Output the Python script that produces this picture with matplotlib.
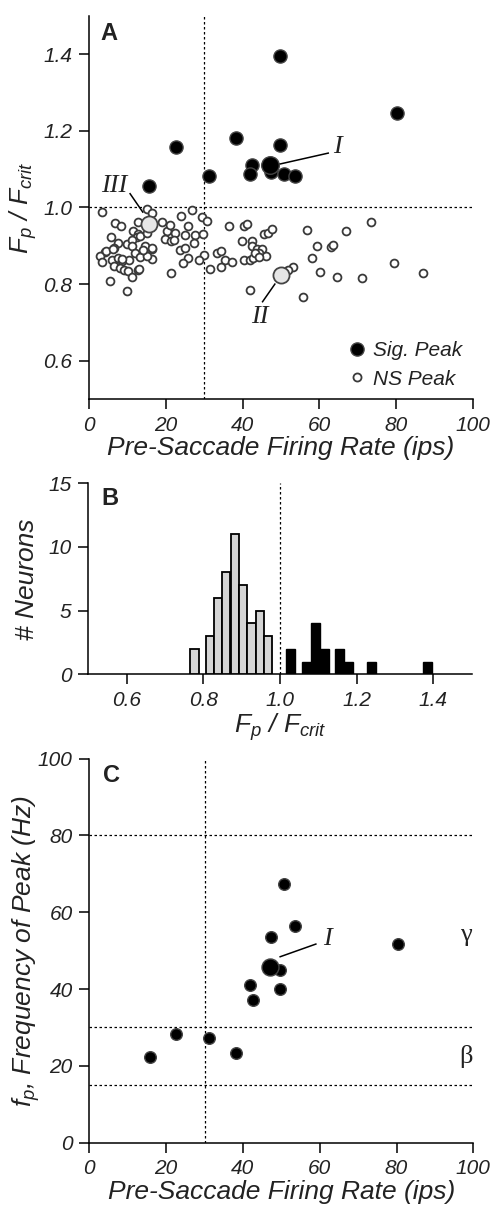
import matplotlib
matplotlib.use("Agg")
import matplotlib.pyplot as plt
from matplotlib.lines import Line2D

plt.rcParams["font.family"] = "Liberation Sans"
plt.rcParams["mathtext.fontset"] = "custom"
plt.rcParams["mathtext.it"] = "Liberation Sans:italic"
plt.rcParams["mathtext.rm"] = "Liberation Sans:italic"
plt.rcParams["axes.linewidth"] = 1.1

# significant-peak neurons (panel A and C share the firing rate)
sig_rate = [49.7, 80.3, 38.2, 22.7, 49.7, 42.5, 41.9, 47.3, 50.8, 53.6, 31.2, 15.7]
sig_ratio = [1.395, 1.246, 1.182, 1.158, 1.162, 1.110, 1.088, 1.092, 1.087, 1.081, 1.083, 1.055]
sig_freq = [45.0, 51.7, 23.4, 28.3, 39.9, 37.1, 41.0, 53.6, 67.3, 56.5, 27.3, 22.4]

# example neuron I (significant), II and III (not significant)
ex1_rate, ex1_ratio, ex1_freq = 47.1, 1.110, 45.8
ex2_rate, ex2_ratio = 49.9, 0.823
ex3_rate, ex3_ratio = 15.7, 0.958

# non-significant neurons
ns_rate = [3.5, 6.8, 8.3, 15.1, 16.5, 12.8, 11.5, 12.8, 12.4, 13.3, 5.7, 7.6, 6.6, 9.8,
           11.1, 11.1, 15.0, 14.6, 16.3, 16.5, 4.2, 2.9, 3.3, 5.9, 7.6, 8.5, 10.5, 6.6,
           8.1, 9.2, 10.2, 11.1, 11.9, 13.3, 15.0, 12.8, 5.5, 10.0, 19.1, 20.2, 19.8,
           21.4, 21.4, 4.4, 6.3, 14.1, 8.5, 16.3, 13.0,
           26.7, 23.9, 29.3, 30.8, 21.1, 22.4, 22.1, 25.0, 25.9, 27.6, 29.8, 27.3, 36.5,
           40.4, 41.1, 23.7, 25.0, 25.9, 24.6, 30.0, 28.7, 31.4, 33.3, 34.4, 35.3, 37.2,
           34.3, 39.8, 42.4, 42.4, 43.8, 40.4, 42.0, 42.6, 41.9,
           45.0, 44.4, 46.1, 45.6, 46.7, 47.7, 53.2, 51.9, 55.7, 56.8, 59.3, 58.0, 60.2,
           62.9, 63.6, 64.5, 66.8, 71.0, 73.4, 79.3, 87.1, 43.2, 44.2]
ns_ratio = [0.987, 0.959, 0.953, 0.997, 0.985, 0.961, 0.938, 0.932, 0.923, 0.925, 0.923,
            0.908, 0.895, 0.906, 0.916, 0.899, 0.933, 0.899, 0.892, 0.866, 0.883, 0.874,
            0.857, 0.864, 0.868, 0.860, 0.862, 0.847, 0.842, 0.836, 0.834, 0.819, 0.881,
            0.871, 0.873, 0.838, 0.809, 0.783, 0.961, 0.938, 0.918, 0.912, 0.828,
            0.886, 0.892, 0.890, 0.866, 0.894, 0.840,
            0.994, 0.977, 0.975, 0.966, 0.955, 0.933, 0.914, 0.929, 0.951, 0.929, 0.930,
            0.907, 0.951, 0.953, 0.957, 0.890, 0.894, 0.868, 0.855, 0.877, 0.862, 0.840,
            0.882, 0.886, 0.864, 0.858, 0.845, 0.912, 0.913, 0.900, 0.891, 0.862, 0.862,
            0.868, 0.785,
            0.892, 0.881, 0.874, 0.931, 0.933, 0.945, 0.844, 0.838, 0.767, 0.940, 0.899,
            0.868, 0.832, 0.897, 0.903, 0.818, 0.939, 0.815, 0.962, 0.854, 0.830, 0.882,
            0.872]

# histogram of F_p / F_crit (bin left edges and counts)
ns_bin_left = [0.766, 0.806, 0.828, 0.849, 0.871, 0.893, 0.915, 0.937, 0.958]
ns_counts = [2, 3, 6, 8, 11, 7, 4, 5, 3]
sig_bin_left = [1.016, 1.057, 1.080, 1.104, 1.143, 1.166, 1.228, 1.374]
sig_counts = [2, 1, 4, 2, 2, 1, 1, 1]

W, H = 496, 1213
fig = plt.figure(figsize=(W / 100, H / 100), dpi=100)


def px_axes(x0, x1, y0, y1):
    return fig.add_axes([x0 / W, 1 - y1 / H, (x1 - x0) / W, (y1 - y0) / H])


def style(ax):
    for s in ["top", "right"]:
        ax.spines[s].set_visible(False)
    ax.tick_params(direction="out", length=7, width=1.1, labelsize=15, pad=5)
    for lab in ax.get_xticklabels() + ax.get_yticklabels():
        lab.set_fontstyle("italic")
        lab.set_color("#222222")


dash = dict(color="black", lw=0.9, ls=(0, (2, 2)))
lab_kw = dict(fontsize=19, fontstyle="italic", color="#222222")
serif = dict(family="Liberation Serif", fontsize=19, color="#222222")
ratio_label = r"$F_p$ / $F_{crit}$"

# ---------------- A ----------------
ax = px_axes(89, 473, 16, 399)
ax.set_xlim(0, 100)
ax.set_ylim(0.5, 1.5)
ax.axvline(30, **dash)
ax.axhline(1.0, **dash)
ax.scatter(ns_rate, ns_ratio, s=32, facecolor="white", edgecolor="#3a3a3a", lw=1.3, zorder=3)
ax.scatter([ex2_rate, ex3_rate], [ex2_ratio, ex3_ratio], s=135, facecolor="#e6e6e6",
           edgecolor="#444444", lw=1.3, zorder=4)
ax.scatter(sig_rate, sig_ratio, s=90, facecolor="black", edgecolor="#444444", lw=1.0, zorder=4)
ax.scatter([ex1_rate], [ex1_ratio], s=160, facecolor="black", edgecolor="#444444", lw=1.0, zorder=5)
ax.plot([49.7, 62.3], [1.1135, 1.142], color="black", lw=1.1)
ax.text(63.5, 1.159, "I", fontstyle="italic", va="center", ha="left", **serif)
ax.plot([10.7, 14.0], [1.036, 0.988], color="black", lw=1.1)
ax.text(10.0, 1.055, "III", fontstyle="italic", va="center", ha="right", **serif)
ax.plot([45.2, 48.4], [0.754, 0.800], color="black", lw=1.1)
ax.text(44.5, 0.713, "II", fontstyle="italic", va="center", ha="center", **serif)
ax.set_xticks([0, 20, 40, 60, 80, 100])
ax.set_yticks([0.6, 0.8, 1.0, 1.2, 1.4])
ax.set_yticklabels(["0.6", "0.8", "1.0", "1.2", "1.4"])
ax.set_xlabel("Pre-Saccade Firing Rate (ips)", labelpad=1, **lab_kw)
ax.set_ylabel(ratio_label, labelpad=3, **lab_kw)
ax.text(0.03, 0.985, "A", transform=ax.transAxes, fontsize=17, fontweight="bold",
        va="top", ha="left", color="#222222")
handles = [
    Line2D([], [], ls="none", marker="o", ms=9.5, mfc="black", mec="#444444"),
    Line2D([], [], ls="none", marker="o", ms=5.8, mfc="white", mec="#3a3a3a", mew=1.3),
]
leg = ax.legend(handles, ["Sig. Peak", "NS Peak"], loc="lower right", frameon=False,
                handletextpad=0.1, handlelength=1.4, labelspacing=0.45, borderaxespad=0.1,
                prop=dict(family="Liberation Sans", style="italic", size=15))
for t in leg.get_texts():
    t.set_color("#222222")
style(ax)

# ---------------- B ----------------
ax = px_axes(88.3, 471.7, 483.3, 674.3)
ax.set_xlim(0.5, 1.5)
ax.set_ylim(0, 15)
ax.axvline(1.0, **dash)
ax.bar(ns_bin_left, ns_counts, width=0.0215, align="edge", color="#d4d4d4",
       edgecolor="black", lw=1.3, zorder=3)
ax.bar(sig_bin_left, sig_counts, width=0.0235, align="edge", color="black",
       edgecolor="black", lw=1.0, zorder=3)
ax.set_xticks([0.6, 0.8, 1.0, 1.2, 1.4])
ax.set_xticklabels(["0.6", "0.8", "1.0", "1.2", "1.4"])
ax.set_yticks([0, 5, 10, 15])
ax.set_xlabel(ratio_label, labelpad=1, **lab_kw)
ax.set_ylabel("# Neurons", labelpad=7, **lab_kw)
ax.text(0.035, 0.98, "B", transform=ax.transAxes, fontsize=17, fontweight="bold",
        va="top", ha="left", color="#222222")
style(ax)

# ---------------- C ----------------
ax = px_axes(89.3, 473.3, 758.5, 1142.7)
ax.set_xlim(0, 100)
ax.set_ylim(0, 100)
ax.axvline(30, **dash)
for yv in [80, 30, 15]:
    ax.axhline(yv, **dash)
ax.scatter(sig_rate, sig_freq, s=70, facecolor="black", edgecolor="#444444", lw=1.0, zorder=4)
ax.scatter([ex1_rate], [ex1_freq], s=150, facecolor="black", edgecolor="#444444", lw=1.0, zorder=5)
ax.plot([49.7, 59.0], [48.4, 51.7], color="black", lw=1.1)
ax.text(60.8, 53.0, "I", fontstyle="italic", va="center", ha="left", **serif)
ax.text(98.0, 54.0, "γ", va="center", ha="center", **serif)
ax.text(98.0, 22.4, "β", va="center", ha="center", **serif)
ax.set_xticks([0, 20, 40, 60, 80, 100])
ax.set_yticks([0, 20, 40, 60, 80, 100])
ax.set_xlabel("Pre-Saccade Firing Rate (ips)", labelpad=1, **lab_kw)
ax.set_ylabel(r"$f_p$, Frequency of Peak (Hz)", labelpad=-3, **lab_kw)
ax.text(0.035, 0.985, "C", transform=ax.transAxes, fontsize=17, fontweight="bold",
        va="top", ha="left", color="#222222")
style(ax)

fig.savefig("out.png", dpi=100)
